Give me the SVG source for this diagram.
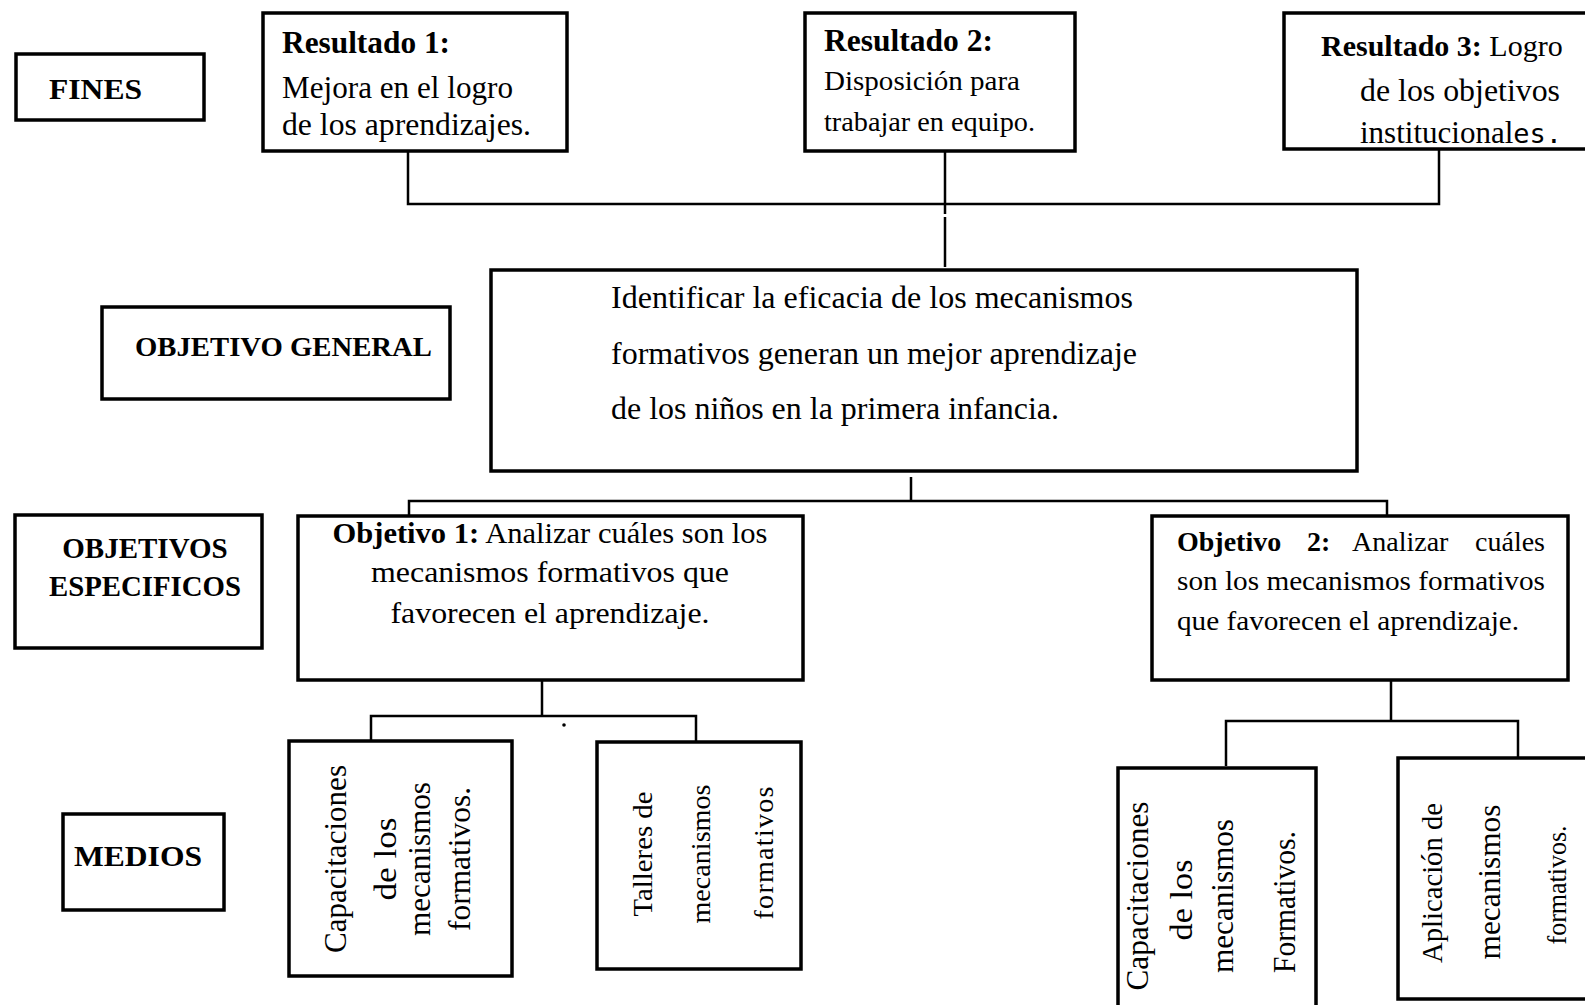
<svg xmlns="http://www.w3.org/2000/svg" width="1585" height="1005" viewBox="0 0 1585 1005" font-family="Liberation Serif, Times New Roman, serif">
<style>
.box{fill:#fff;stroke:#000;stroke-width:3.5}
.conn{stroke:#000;stroke-width:2.5;fill:none}
text{fill:#000}
.b{font-weight:bold}
.mono{font-family:'DejaVu Sans Mono','Liberation Mono',monospace}
</style>
<rect width="1585" height="1005" fill="#fff"/>
<g id="connectors">
<path class="conn" d="M408 151V204H1439V149M945 151V214M945 217V267"/>
<path class="conn" d="M911 477V501M409 516V501H1387V516"/>
<path class="conn" d="M542 660V716M371 741V716H696V741"/>
<path class="conn" d="M1391 659V721M1226 766V721H1518V758"/>
<circle cx="564" cy="725" r="1.8" fill="#000"/>
</g>
<g id="fines">
<rect class="box" x="16" y="54" width="188" height="66"/>
<text class="b" x="49" y="99" font-size="30" textLength="93" lengthAdjust="spacingAndGlyphs">FINES</text>
</g>
<g id="resultado1">
<rect class="box" x="263" y="13" width="304" height="138"/>
<text class="b" x="282" y="53" font-size="31" textLength="168" lengthAdjust="spacingAndGlyphs">Resultado 1:</text>
<text x="282" y="98" font-size="31" textLength="231" lengthAdjust="spacingAndGlyphs">Mejora en el logro</text>
<text x="282" y="135" font-size="31" textLength="249" lengthAdjust="spacingAndGlyphs">de los aprendizajes.</text>
</g>
<g id="resultado2">
<rect class="box" x="805" y="13" width="270" height="138"/>
<text class="b" x="824" y="51" font-size="31" textLength="169" lengthAdjust="spacingAndGlyphs">Resultado 2:</text>
<text x="824" y="90" font-size="27" textLength="196" lengthAdjust="spacingAndGlyphs">Disposición para</text>
<text x="824" y="131" font-size="27" textLength="211" lengthAdjust="spacingAndGlyphs">trabajar en equipo.</text>
</g>
<g id="resultado3">
<rect class="box" x="1284" y="13" width="320" height="136"/>
<text x="1321" y="56" font-size="30"><tspan class="b">Resultado 3:</tspan> Logro</text>
<text x="1360" y="101" font-size="31" textLength="200" lengthAdjust="spacingAndGlyphs">de los objetivos</text>
<text x="1360" y="143" font-size="31">institucional<tspan class="mono" font-size="27">es.</tspan></text>
</g>
<g id="objetivo-general-label">
<rect class="box" x="102" y="307" width="348" height="92"/>
<text class="b" x="135" y="356" font-size="28" textLength="297" lengthAdjust="spacingAndGlyphs">OBJETIVO GENERAL</text>
</g>
<g id="objetivo-general">
<rect class="box" x="491" y="270" width="866" height="201"/>
<text x="611" y="308" font-size="31" textLength="522" lengthAdjust="spacingAndGlyphs">Identificar la eficacia de los mecanismos</text>
<text x="611" y="364" font-size="31" textLength="526" lengthAdjust="spacingAndGlyphs">formativos generan un mejor aprendizaje</text>
<text x="611" y="419" font-size="31" textLength="448" lengthAdjust="spacingAndGlyphs">de los niños en la primera infancia.</text>
</g>
<g id="objetivos-especificos-label">
<rect class="box" x="15" y="515" width="247" height="133"/>
<text class="b" x="145" y="558" font-size="29" text-anchor="middle">OBJETIVOS</text>
<text class="b" x="145" y="596" font-size="29" text-anchor="middle" textLength="192" lengthAdjust="spacingAndGlyphs">ESPECIFICOS</text>
</g>
<g id="objetivo1">
<rect class="box" x="298" y="516" width="505" height="164"/>
<text x="550" y="543" font-size="30" text-anchor="middle" textLength="435" lengthAdjust="spacingAndGlyphs"><tspan class="b">Objetivo 1:</tspan> Analizar cuáles son los</text>
<text x="550" y="582" font-size="30" text-anchor="middle" textLength="358" lengthAdjust="spacingAndGlyphs">mecanismos formativos que</text>
<text x="550" y="623" font-size="30" text-anchor="middle" textLength="319" lengthAdjust="spacingAndGlyphs">favorecen el aprendizaje.</text>
</g>
<g id="objetivo2">
<rect class="box" x="1152" y="516" width="416" height="164"/>
<text y="551" font-size="28"><tspan class="b" x="1177">Objetivo</tspan><tspan class="b" x="1307">2:</tspan><tspan x="1352">Analizar</tspan><tspan x="1545" text-anchor="end">cuáles</tspan></text>
<text x="1177" y="590" font-size="28" textLength="368" lengthAdjust="spacingAndGlyphs">son los mecanismos formativos</text>
<text x="1177" y="630" font-size="28" textLength="342" lengthAdjust="spacingAndGlyphs">que favorecen el aprendizaje.</text>
</g>
<g id="medios-label">
<rect class="box" x="63" y="814" width="161" height="96"/>
<text class="b" x="74" y="866" font-size="30" textLength="128" lengthAdjust="spacingAndGlyphs">MEDIOS</text>
</g>
<g id="medio1">
<rect class="box" x="289" y="741" width="223" height="235"/>
<text font-size="31" text-anchor="middle" transform="translate(346 859) rotate(-90)" textLength="188" lengthAdjust="spacingAndGlyphs">Capacitaciones</text>
<text font-size="31" text-anchor="middle" transform="translate(396 859) rotate(-90)" textLength="83" lengthAdjust="spacingAndGlyphs">de los</text>
<text font-size="31" text-anchor="middle" transform="translate(430 859) rotate(-90)" textLength="154" lengthAdjust="spacingAndGlyphs">mecanismos</text>
<text font-size="31" text-anchor="middle" transform="translate(470 859) rotate(-90)" textLength="144" lengthAdjust="spacingAndGlyphs">formativos.</text>
</g>
<g id="medio2">
<rect class="box" x="597" y="742" width="204" height="227"/>
<text font-size="28" text-anchor="middle" transform="translate(652 854) rotate(-90)" textLength="125" lengthAdjust="spacingAndGlyphs">Talleres de</text>
<text font-size="28" text-anchor="middle" transform="translate(710 854) rotate(-90)" textLength="139" lengthAdjust="spacingAndGlyphs">mecanismos</text>
<text font-size="28" text-anchor="middle" transform="translate(773 853) rotate(-90)" textLength="133" lengthAdjust="spacing">formativos</text>
</g>
<g id="medio3">
<rect class="box" x="1118" y="768" width="198" height="250"/>
<text font-size="31" text-anchor="middle" transform="translate(1148 896) rotate(-90)" textLength="189" lengthAdjust="spacingAndGlyphs">Capacitaciones</text>
<text font-size="31" text-anchor="middle" transform="translate(1192 900) rotate(-90)" textLength="81" lengthAdjust="spacingAndGlyphs">de los</text>
<text font-size="31" text-anchor="middle" transform="translate(1233 896) rotate(-90)" textLength="154" lengthAdjust="spacingAndGlyphs">mecanismos</text>
<text font-size="31" text-anchor="middle" transform="translate(1295 902) rotate(-90)" textLength="142" lengthAdjust="spacingAndGlyphs">Formativos.</text>
</g>
<g id="medio4">
<rect class="box" x="1398" y="758" width="210" height="241"/>
<text font-size="29" text-anchor="middle" transform="translate(1442 883) rotate(-90)" textLength="160" lengthAdjust="spacingAndGlyphs">Aplicación de</text>
<text font-size="31" text-anchor="middle" transform="translate(1500 882) rotate(-90)" textLength="155" lengthAdjust="spacingAndGlyphs">mecanismos</text>
<text font-size="27" text-anchor="middle" transform="translate(1566 885) rotate(-90)" textLength="119" lengthAdjust="spacingAndGlyphs">formativos.</text>
</g>
</svg>
